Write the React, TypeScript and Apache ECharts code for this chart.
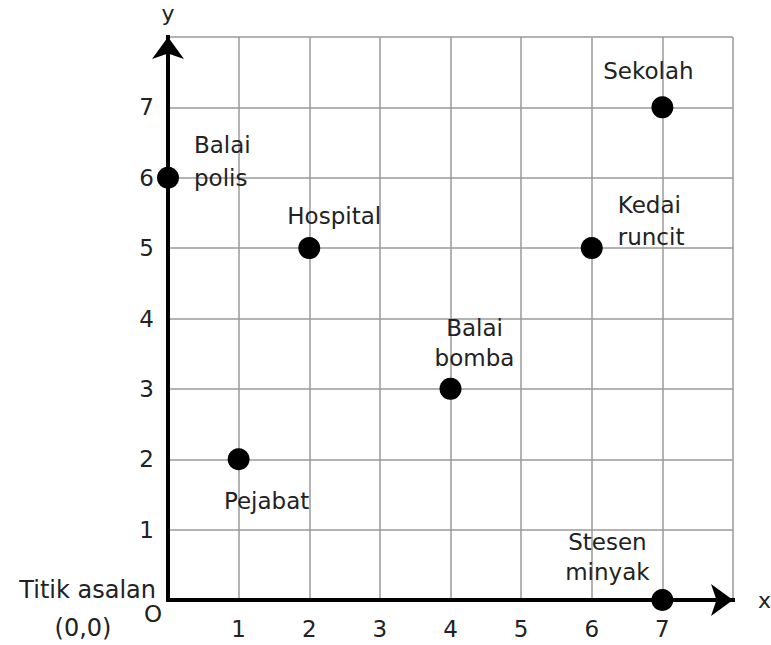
import React, { useEffect, useRef } from "react";
import * as echarts from "echarts";

const placeLabels = ["Balai\npolis", "Hospital", "Pejabat", "Balai\nbomba", "Kedai\nruncit", "Sekolah", "Stesen\nminyak"];
const xValues = [0, 2, 1, 4, 6, 7, 7];
const yValues = [6, 5, 2, 3, 5, 7, 0];
const tickLabels = ["1", "2", "3", "4", "5", "6", "7"];
const axisMin = 0;
const axisMax = 8;

// label layout (not data): align + offset from the point
const labelLayout: Record<string, { align: string; offset: number[]; lineHeight: number }> = {
  "Balai\npolis": { align: "left", offset: [26, -16], lineHeight: 33 },
  "Hospital": { align: "center", offset: [25, -32], lineHeight: 30 },
  "Pejabat": { align: "center", offset: [28, 42], lineHeight: 30 },
  "Balai\nbomba": { align: "center", offset: [24, -46], lineHeight: 30 },
  "Kedai\nruncit": { align: "left", offset: [26, -27], lineHeight: 32 },
  "Sekolah": { align: "center", offset: [-14, -36], lineHeight: 30 },
  "Stesen\nminyak": { align: "center", offset: [-55, -43], lineHeight: 30 },
};

const FONT = "DejaVu Sans";
const TXT = "#222";

export default function App() {
  const ref = useRef<HTMLDivElement>(null);
  useEffect(() => {
    if (!ref.current) return;
    const chart = echarts.init(ref.current, null, { renderer: "svg" });
    const tickFmt = (v: number) => (tickLabels.includes(String(v)) ? String(v) : "");
    const axisCommon = {
      type: "value",
      min: axisMin,
      max: axisMax,
      interval: 1,
      axisTick: { show: false },
      axisLine: {
        show: true,
        symbol: ["none", "arrow"],
        symbolSize: [24, 22],
        symbolOffset: [0, 0],
        lineStyle: { color: "#000", width: 4, cap: "square" },
      },
      splitLine: { show: true, lineStyle: { color: "#9a9a9a", width: 1.5 } },
      nameTextStyle: { fontFamily: FONT, fontSize: 22, color: TXT },
    };
    chart.setOption({
      animation: false,
      backgroundColor: "#fff",
      grid: { left: 168, right: 38, top: 37, bottom: 45, containLabel: false, outerBoundsMode: "none" },
      xAxis: {
        ...axisCommon,
        name: "x",
        nameLocation: "end",
        nameGap: 25,
        axisLabel: { formatter: tickFmt, fontFamily: FONT, fontSize: 23, color: TXT, margin: 17 },
      },
      yAxis: {
        ...axisCommon,
        name: "y",
        nameLocation: "end",
        nameGap: 13,
        axisLabel: { formatter: tickFmt, fontFamily: FONT, fontSize: 23, color: TXT, margin: 14 },
      },
      graphic: [
        { type: "text", x: 153, y: 614, style: { text: "O", fontFamily: FONT, fontSize: 23, fill: TXT, align: "center", verticalAlign: "middle" } },
        { type: "text", x: 156, y: 590, style: { text: "Titik asalan", fontFamily: FONT, fontSize: 24, fill: TXT, align: "right", verticalAlign: "middle" } },
        { type: "text", x: 83, y: 628, style: { text: "(0,0)", fontFamily: FONT, fontSize: 24, fill: TXT, align: "center", verticalAlign: "middle" } },
      ],
      series: [
        {
          type: "scatter",
          symbol: "circle",
          symbolSize: 22,
          itemStyle: { color: "#000", opacity: 1 },
          data: placeLabels.map((name, i) => {
            const l = labelLayout[name];
            return {
              name,
              value: [xValues[i], yValues[i]],
              label: {
                show: true,
                position: "inside",
                formatter: name,
                align: l.align,
                verticalAlign: "middle",
                offset: l.offset,
                lineHeight: l.lineHeight,
                fontFamily: FONT,
                fontSize: 23,
                color: TXT,
                opacity: 1,
              },
            };
          }),
        },
      ],
    });
    return () => chart.dispose();
  }, []);
  return <div ref={ref} style={{ position: "fixed", left: 0, top: 0, width: 771, height: 645 }} />;
}
